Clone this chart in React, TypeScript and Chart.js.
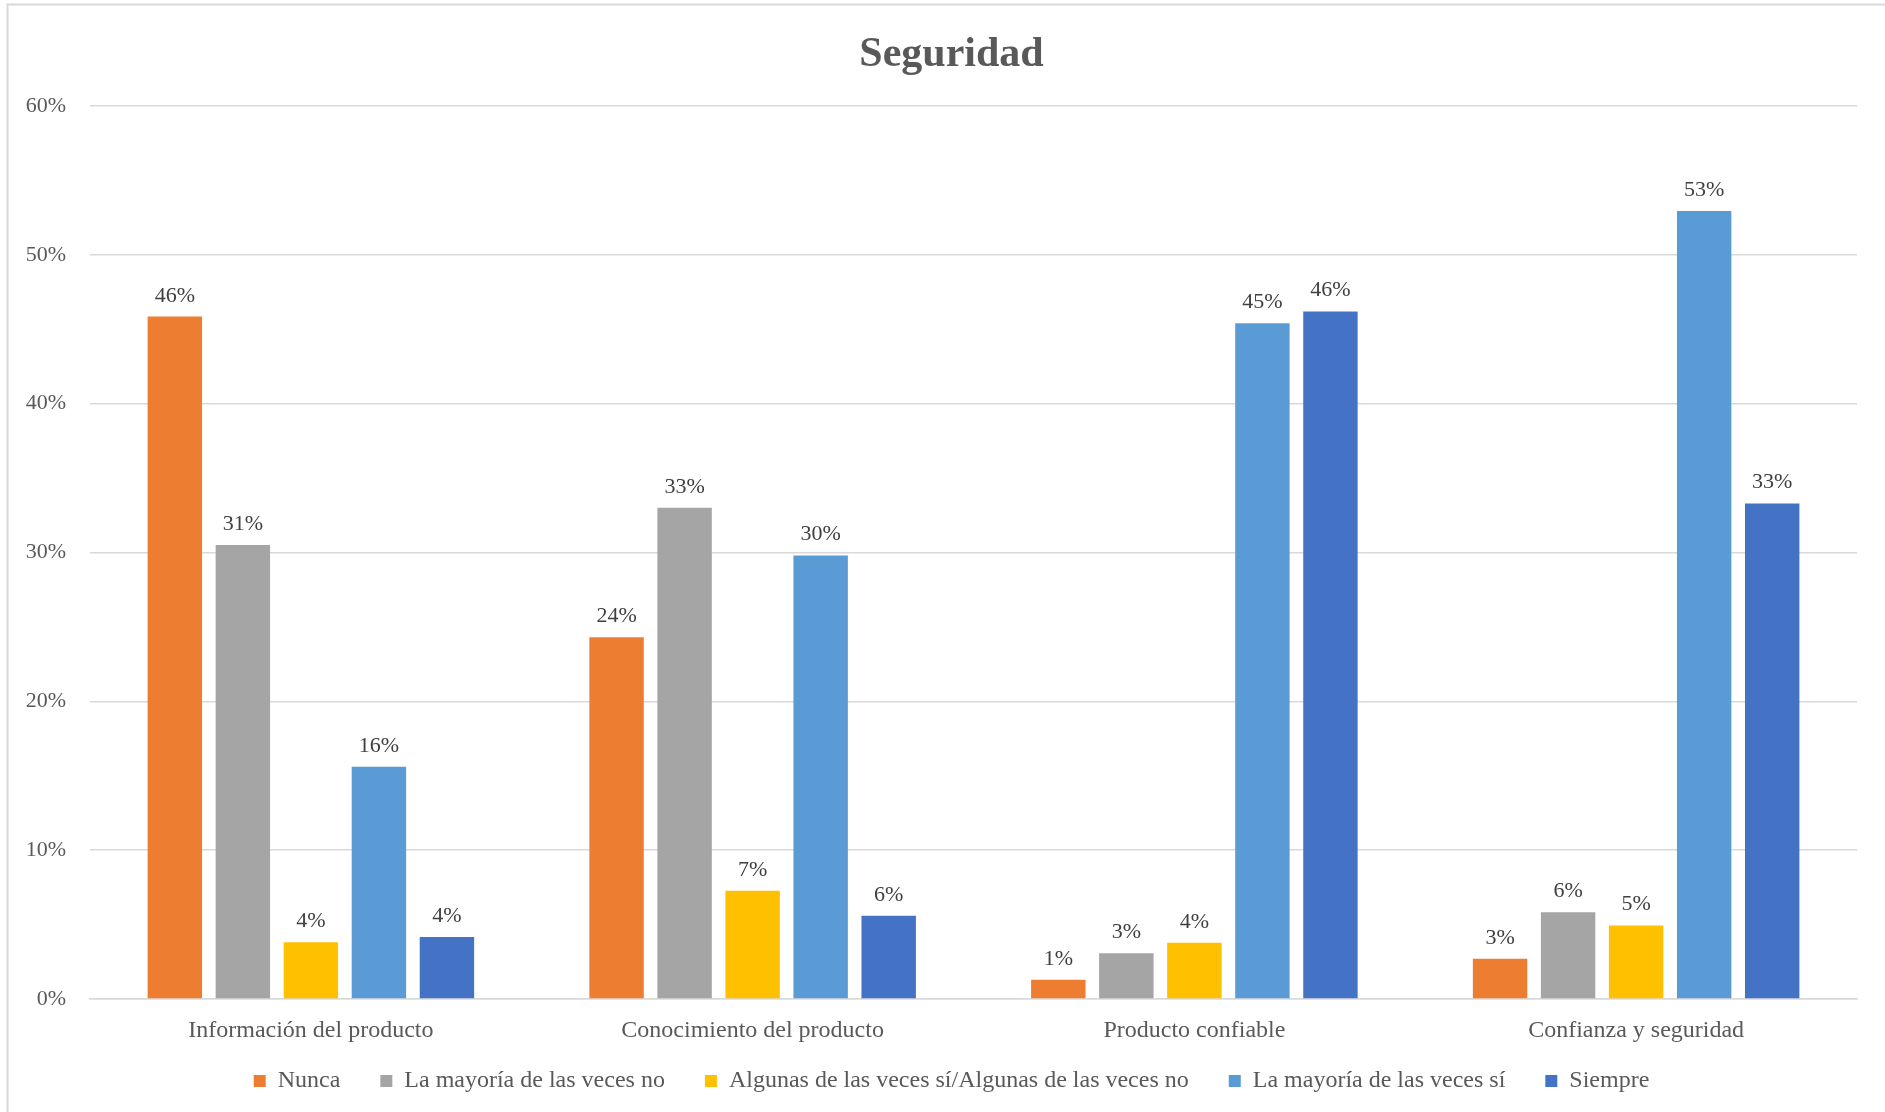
import React, { useEffect, useRef } from "react";
import { Chart, registerables } from "chart.js";

Chart.register(...registerables);

const categories = [
  "Información del producto",
  "Conocimiento del producto",
  "Producto confiable",
  "Confianza y seguridad",
];

const seriesNames = [
  "Nunca",
  "La mayoría de las veces no",
  "Algunas de las veces sí/Algunas de las veces no",
  "La mayoría de las veces sí",
  "Siempre",
];

const nunca = [45.85, 24.3, 1.3, 2.7];
const mayoriaNo = [30.5, 33.0, 3.07, 5.83];
const algunas = [3.81, 7.27, 3.78, 4.94];
const mayoriaSi = [15.6, 29.8, 45.4, 52.95];
const siempre = [4.16, 5.6, 46.2, 33.3];

const seriesColors = ["#ED7D31", "#A5A5A5", "#FFC000", "#5B9BD5", "#4472C4"];

const yTicks = [0, 10, 20, 30, 40, 50, 60];

const FONT = '"Liberation Serif", "Times New Roman", serif';

const W = 1885;
const H = 1112;

export default function App() {
  const ref = useRef<HTMLCanvasElement | null>(null);

  useEffect(() => {
    if (!ref.current) return;
    const values = [nunca, mayoriaNo, algunas, mayoriaSi, siempre];

    const frame = {
      id: "frame",
      beforeDraw(chart: any) {
        const ctx = chart.ctx;
        ctx.save();
        ctx.fillStyle = "#ffffff";
        ctx.fillRect(0, 0, chart.width, chart.height);
        ctx.strokeStyle = "#d9d9d9";
        ctx.lineWidth = 2;
        ctx.beginPath();
        ctx.moveTo(7.5, H);
        ctx.lineTo(7.5, 4.5);
        ctx.lineTo(W, 4.5);
        ctx.stroke();
        ctx.restore();
      },
    };

    // widen the label clip areas of the axes so tick text is not cut off
    const unclip = {
      id: "unclip",
      afterLayout(chart: any) {
        const x = chart.scales.x;
        const y = chart.scales.y;
        if (x) x.bottom = x.top + 70;
        if (y) y.left = 0;
      },
    };

    const dataLabels = {
      id: "dataLabels",
      afterDatasetsDraw(chart: any) {
        const ctx = chart.ctx;
        ctx.save();
        ctx.font = `22px ${FONT}`;
        ctx.fillStyle = "#404040";
        ctx.textAlign = "center";
        ctx.textBaseline = "alphabetic";
        chart.data.datasets.forEach((ds: any, di: number) => {
          const meta = chart.getDatasetMeta(di);
          meta.data.forEach((el: any, i: number) => {
            const v = ds.data[i];
            ctx.fillText(Math.round(v) + "%", el.x, el.y - 15);
          });
        });
        ctx.restore();
      },
    };

    const chart = new Chart(ref.current, {
      type: "bar",
      data: {
        labels: categories,
        datasets: seriesNames.map((name, i) => ({
          label: name,
          data: values[i],
          backgroundColor: seriesColors[i],
          borderWidth: 0,
          categoryPercentage: 0.77,
          barPercentage: 0.8,
        })),
      },
      options: {
        animation: false,
        responsive: false,
        devicePixelRatio: 1,
        layout: { padding: { left: 46, right: 28, top: 0, bottom: 9 } },
        plugins: {
          title: {
            display: true,
            text: "Seguridad",
            color: "#595959",
            font: { family: FONT, size: 42, weight: "bold", lineHeight: 1.2 },
            padding: { top: 30, bottom: 25.6 },
          },
          legend: {
            display: true,
            position: "bottom",
            labels: {
              color: "#595959",
              font: { family: FONT, size: 24 },
              boxWidth: 12,
              boxHeight: 12,
              padding: 40,
            },
          },
          tooltip: { enabled: false },
        },
        scales: {
          x: {
            grid: { display: false, drawTicks: false },
            border: { display: true, color: "#d9d9d9", width: 1.5 },
            ticks: {
              color: "#595959",
              font: { family: FONT, size: 24 },
              padding: 17,
              maxRotation: 0,
            },
            afterFit(scale: any) {
              scale.height = 30;
            },
          },
          y: {
            min: 0,
            max: 60,
            afterBuildTicks(scale: any) {
              scale.ticks = yTicks.map((v) => ({ value: v }));
            },
            grid: { color: "#d9d9d9", lineWidth: 1.5, drawTicks: false },
            border: { display: false },
            ticks: {
              color: "#595959",
              font: { family: FONT, size: 22 },
              padding: 24,
              callback: (v: any) => v + "%",
            },
            afterFit(scale: any) {
              scale.width = 44;
            },
          },
        },
      },
      plugins: [frame, unclip, dataLabels],
    } as any);

    return () => chart.destroy();
  }, []);

  return (
    <div style={{ position: "fixed", left: 0, top: 0, width: W, height: H, background: "#fff" }}>
      <canvas ref={ref} width={W} height={H} style={{ display: "block", width: W, height: H }} />
    </div>
  );
}
